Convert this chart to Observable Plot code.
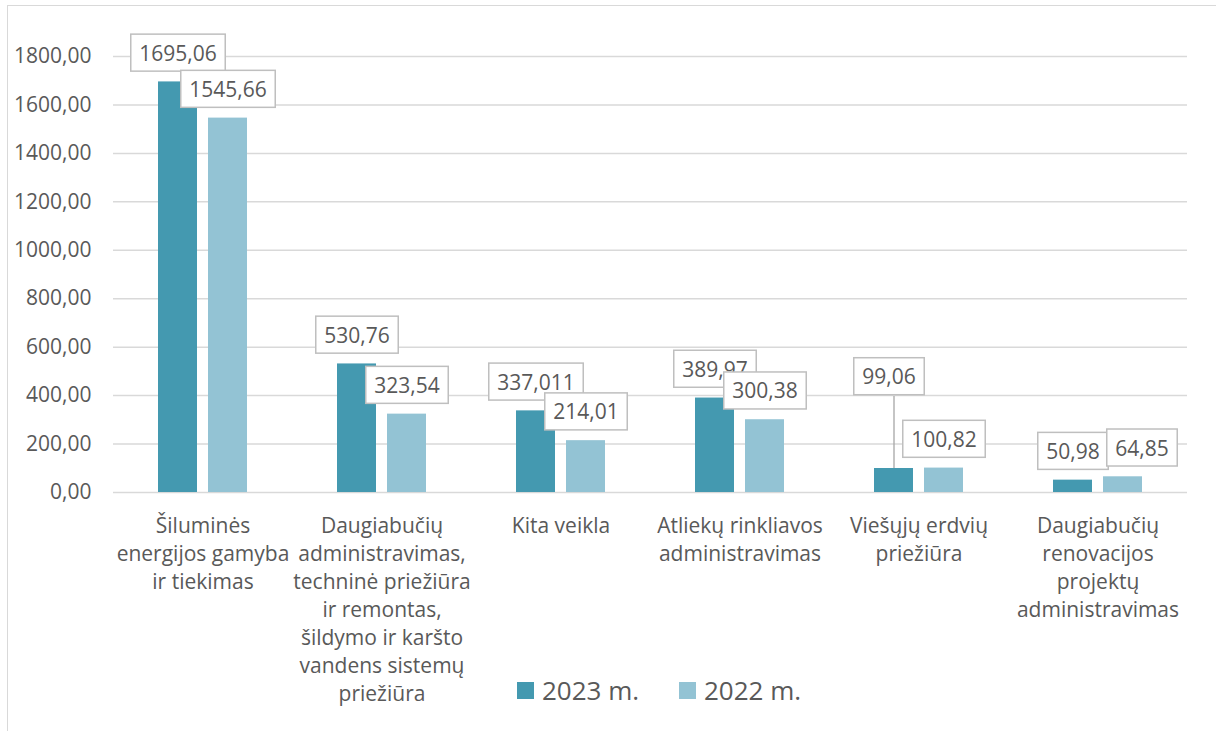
<!DOCTYPE html>
<html>
<head>
<meta charset="utf-8">
<script src="https://cdn.jsdelivr.net/npm/d3@7"></script>
<script src="https://cdn.jsdelivr.net/npm/@observablehq/plot@0.6"></script>
<style>
  html, body { margin: 0; padding: 0; background: #ffffff; }
  #wrap { position: relative; width: 1216px; height: 731px; overflow: hidden; font-family: "Open Sans", sans-serif; color: #595959; }
  #frame { position: absolute; left: 7px; top: 5px; width: 1300px; height: 800px; border-top: 1.5px solid #d9d9d9; border-left: 1.5px solid #d9d9d9; box-sizing: border-box; }
  #wrap svg { position: absolute; left: 0; top: 0; overflow: visible; }
  .legend-item { position: absolute; top: 676px; height: 28px; display: flex; align-items: center; font-size: 26px; line-height: 28px; color: #595959; white-space: nowrap; }
  .legend-item .sw { width: 17px; height: 17px; margin-right: 8px; }
</style>
</head>
<body>
<div id="wrap"><div id="frame"></div></div>
<script>
// ---- data ----
const categories = [
  "Šiluminės energijos gamyba ir tiekimas",
  "Daugiabučių administravimas, techninė priežiūra ir remontas, šildymo ir karšto vandens sistemų priežiūra",
  "Kita veikla",
  "Atliekų rinkliavos administravimas",
  "Viešųjų erdvių priežiūra",
  "Daugiabučių renovacijos projektų administravimas"
];
const categoryLabels = [
  "Šiluminės\nenergijos gamyba\nir tiekimas",
  "Daugiabučių\nadministravimas,\ntechninė priežiūra\nir remontas,\nšildymo ir karšto\nvandens sistemų\npriežiūra",
  "Kita veikla",
  "Atliekų rinkliavos\nadministravimas",
  "Viešųjų erdvių\npriežiūra",
  "Daugiabučių\nrenovacijos\nprojektų\nadministravimas"
];
const seriesNames = ["2023 m.", "2022 m."];
const values2023 = [1695.06, 530.76, 337.011, 389.97, 99.06, 50.98];
const values2022 = [1545.66, 323.54, 214.01, 300.38, 100.82, 64.85];
const yTicks = [0, 200, 400, 600, 800, 1000, 1200, 1400, 1600, 1800];
const colors = ["#4499b0", "#93c3d4"];

// table built from the arrays
const rows = [];
categories.forEach((c, i) => {
  rows.push({cat: c, series: seriesNames[0], value: values2023[i]});
  rows.push({cat: c, series: seriesNames[1], value: values2022[i]});
});
const fmtLabel = v => String(v).replace(".", ",");
const labelSet = new Set(rows.map(d => fmtLabel(d.value)));
// labels that Excel moved: one lifted with a leader line, one nudged right
const isMoved = d => d.cat === categories[4] && d.series === seriesNames[0];
const isNudged = d => d.cat === categories[5] && d.series === seriesNames[1];

const chart = Plot.plot({
  width: 1216,
  height: 731,
  marginLeft: 112,
  marginRight: 28,
  marginTop: 56,
  marginBottom: 239,
  style: {fontFamily: "Open Sans, sans-serif", fontSize: "21px", color: "#595959", background: "transparent", overflow: "visible"},
  fx: {domain: categories, padding: 0},
  x: {domain: seriesNames, paddingInner: 0.2157, paddingOuter: 0.863, axis: null},
  y: {domain: [0, 1800], axis: null},
  color: {domain: seriesNames, range: colors},
  marks: [
    Plot.gridY(yTicks, {stroke: "#d9d9d9", strokeOpacity: 1, strokeWidth: 1.5}),
    Plot.barY(rows, {fx: "cat", x: "series", y: "value", fill: "series"}),
    Plot.axisY(yTicks, {
      tickSize: 0, tickPadding: 22, fontSize: 21, fill: "#595959", label: null,
      tickFormat: d => d.toFixed(2).replace(".", ",")
    }),
    Plot.axisFx({
      anchor: "bottom", tickSize: 0, tickPadding: 21, fontSize: 21, lineHeight: 1.333,
      fill: "#595959", label: null,
      tickFormat: d => categoryLabels[categories.indexOf(d)]
    }),
    Plot.ruleX(rows.filter(isMoved), {
      fx: "cat", x: "series", y1: "value", y2: "value", insetTop: -72,
      stroke: "#a6a6a6", strokeWidth: 1.3
    }),
    Plot.text(rows.filter(d => !isMoved(d) && !isNudged(d)), {
      fx: "cat", x: "series", y: "value", text: d => fmtLabel(d.value),
      dy: -28, fontSize: 21, fill: "#595959"
    }),
    Plot.text(rows.filter(isNudged), {
      fx: "cat", x: "series", y: "value", text: d => fmtLabel(d.value),
      dy: -28, dx: 19, fontSize: 21, fill: "#595959"
    }),
    Plot.text(rows.filter(isMoved), {
      fx: "cat", x: "series", y: "value", text: d => fmtLabel(d.value),
      dy: -91, dx: -5, fontSize: 21, fill: "#595959"
    })
  ]
});

const wrap = document.getElementById("wrap");
wrap.append(chart);

// white boxes with grey border behind data labels
const NS = "http://www.w3.org/2000/svg";
Array.from(chart.querySelectorAll("text"))
  .filter(t => labelSet.has(t.textContent.trim()))
  .forEach(t => {
    const b = t.getBBox();
    const w = b.width + 17, h = 37;
    const r = document.createElementNS(NS, "rect");
    r.setAttribute("x", b.x + b.width / 2 - w / 2);
    r.setAttribute("y", b.y + b.height / 2 - h / 2);
    r.setAttribute("width", w);
    r.setAttribute("height", h);
    r.setAttribute("fill", "#ffffff");
    r.setAttribute("stroke", "#bfbfbf");
    r.setAttribute("stroke-width", "1.5");
    const tr = t.getAttribute("transform");
    if (tr) r.setAttribute("transform", tr);
    t.parentNode.insertBefore(r, t);
  });

// legend
const legendLeft = [517, 679];
seriesNames.forEach((s, i) => {
  const item = document.createElement("div");
  item.className = "legend-item";
  item.style.left = legendLeft[i] + "px";
  const sw = document.createElement("div");
  sw.className = "sw";
  sw.style.background = colors[i];
  const tx = document.createElement("span");
  tx.textContent = s;
  item.append(sw, tx);
  wrap.append(item);
});
</script>
</body>
</html>
